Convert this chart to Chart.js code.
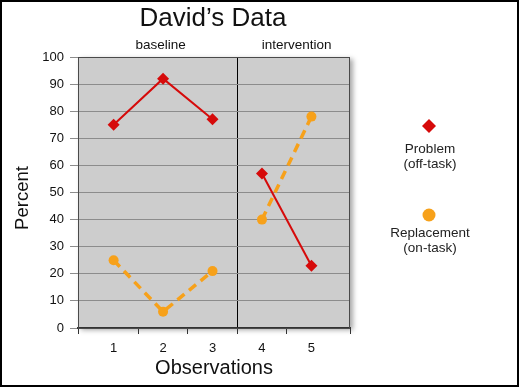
<!DOCTYPE html>
<html>
<head>
<meta charset="utf-8">
<script src="https://cdn.jsdelivr.net/npm/chart.js@4/dist/chart.umd.min.js"></script>
<style>
  html, body { margin: 0; padding: 0; background: #fff; }
  canvas { display: block; }
</style>
</head>
<body>
<canvas id="davidChart" width="520" height="388"></canvas>
<script>
// Chart data
const observations = [1, 2, 3, 4, 5];
const problemValues = [75, 92, 77, 57, 23];      // Problem (off-task)
const replacementValues = [25, 6, 21, 40, 78];   // Replacement (on-task)
const yTicks = [0, 10, 20, 30, 40, 50, 60, 70, 80, 90, 100];
const phaseNames = ['baseline', 'intervention'];
const phaseChange = 3.5;   // line between observation 3 and 4
const xMin = 0.28;
const xMax = 5.78;

const FONT = '"Liberation Sans", Arial, sans-serif';
const RED = '#d60a0a';
const ORANGE = '#f7a11a';

function toPoints(values) {
  return observations.map((x, i) => ({ x: x, y: values[i] }));
}

// Break the line where the phase changes
const phaseGap = {
  borderColor: ctx => (ctx.p0.parsed.x < phaseChange && ctx.p1.parsed.x > phaseChange) ? 'transparent' : undefined
};

/**
 * Gray plot background with a soft shadow, titles, legend and outer frame
 */
const plotBackground = {
  id: 'plotBackground',
  beforeDraw(chart) {
    const { ctx, chartArea: a } = chart;
    ctx.save();
    ctx.shadowColor = 'rgba(0,0,0,0.35)';
    ctx.shadowBlur = 5;
    ctx.shadowOffsetX = 3;
    ctx.shadowOffsetY = 2;
    ctx.fillStyle = '#cdcdcd';
    ctx.fillRect(a.left, a.top, a.right - a.left, a.bottom - a.top);
    ctx.restore();
  },
  afterDraw(chart) {
    const { ctx, chartArea: a, scales } = chart;
    ctx.save();
    // plot border
    ctx.strokeStyle = '#4a4a4a';
    ctx.lineWidth = 1;
    ctx.strokeRect(a.left + 0.5, a.top + 0.5, a.right - a.left - 1, a.bottom - a.top);

    ctx.textAlign = 'center';
    ctx.textBaseline = 'middle';

    // main title
    ctx.fillStyle = '#111';
    ctx.font = '26px ' + FONT;
    ctx.fillText('David\u2019s Data', 213, 19);

    // y axis title
    ctx.save();
    ctx.translate(23, 198);
    ctx.rotate(-Math.PI / 2);
    ctx.font = '18.5px ' + FONT;
    ctx.fillText('Percent', 0, 0);
    ctx.restore();

    // phase labels above the plot
    ctx.font = '13.5px ' + FONT;
    const bounds = [xMin, phaseChange, xMax];
    phaseNames.forEach((name, i) => {
      const mid = (bounds[i] + bounds[i + 1]) / 2;
      ctx.fillText(name, scales.x.getPixelForValue(mid) + 3, 45);
    });

    // legend on the right
    const lx = 429;
    ctx.fillStyle = RED;
    ctx.beginPath();
    ctx.moveTo(lx, 119); ctx.lineTo(lx + 7, 126); ctx.lineTo(lx, 133); ctx.lineTo(lx - 7, 126);
    ctx.closePath();
    ctx.fill();
    ctx.fillStyle = ORANGE;
    ctx.beginPath();
    ctx.arc(lx, 215, 6.5, 0, Math.PI * 2);
    ctx.fill();

    ctx.fillStyle = '#222';
    ctx.font = '13.5px ' + FONT;
    ctx.fillText('Problem', lx + 1, 149);
    ctx.fillText('(off-task)', lx + 1, 164);
    ctx.fillText('Replacement', lx + 1, 233);
    ctx.fillText('(on-task)', lx + 1, 248);

    // outer frame
    ctx.strokeStyle = '#000';
    ctx.lineWidth = 2;
    ctx.strokeRect(1, 1, 517, 385);
    ctx.restore();
  }
};

new Chart(document.getElementById('davidChart'), {
  type: 'line',
  data: {
    datasets: [
      {
        label: 'Problem (off-task)',
        data: toPoints(problemValues),
        borderColor: RED,
        backgroundColor: RED,
        borderWidth: 2,
        pointStyle: 'rectRot',
        pointRadius: 6,
        pointBorderWidth: 0,
        segment: phaseGap
      },
      {
        label: 'Replacement (on-task)',
        data: toPoints(replacementValues),
        borderColor: ORANGE,
        backgroundColor: ORANGE,
        borderWidth: 3.5,
        borderDash: [9, 6],
        pointStyle: 'circle',
        pointRadius: 5,
        pointBorderWidth: 0,
        segment: phaseGap
      }
    ]
  },
  options: {
    responsive: false,
    animation: false,
    layout: { padding: { top: 57, right: 170, bottom: 0, left: 14 } },
    plugins: {
      legend: { display: false },
      tooltip: { enabled: false },
      title: { display: false }
    },
    scales: {
      x: {
        type: 'linear',
        min: xMin,
        max: xMax,
        afterFit: scale => { scale.height = 60; },
        afterBuildTicks: scale => {
          const vals = [xMin];
          observations.forEach(o => { vals.push(o); vals.push(o + 0.5); });
          vals[vals.length - 1] = xMax;
          scale.ticks = vals.map(v => ({ value: v }));
        },
        ticks: {
          autoSkip: false,
          maxRotation: 0,
          color: '#111',
          padding: 7,
          font: { family: FONT, size: 13 },
          callback: v => observations.includes(v) ? String(v) : ''
        },
        grid: {
          drawOnChartArea: true,
          color: ctx => ctx.tick && ctx.tick.value === phaseChange ? '#000' : 'transparent',
          tickColor: ctx => ctx.tick && observations.includes(ctx.tick.value) ? 'transparent' : '#333',
          tickLength: 6,
          lineWidth: 1
        },
        border: { color: '#333', width: 2 },
        title: {
          display: true,
          text: 'Observations',
          color: '#111',
          font: { family: FONT, size: 20 },
          padding: { top: 0, bottom: 8 }
        }
      },
      y: {
        min: 0,
        max: 100,
        afterFit: scale => { scale.width = 64; },
        afterBuildTicks: scale => { scale.ticks = yTicks.map(v => ({ value: v })); },
        ticks: {
          color: '#111',
          padding: 6,
          font: { family: FONT, size: 13 }
        },
        grid: {
          color: '#8c8c8c',
          tickLength: 8,
          lineWidth: 1
        },
        border: { color: '#4a4a4a' },
        title: { display: false }
      }
    }
  },
  plugins: [plotBackground]
});
</script>
</body>
</html>
